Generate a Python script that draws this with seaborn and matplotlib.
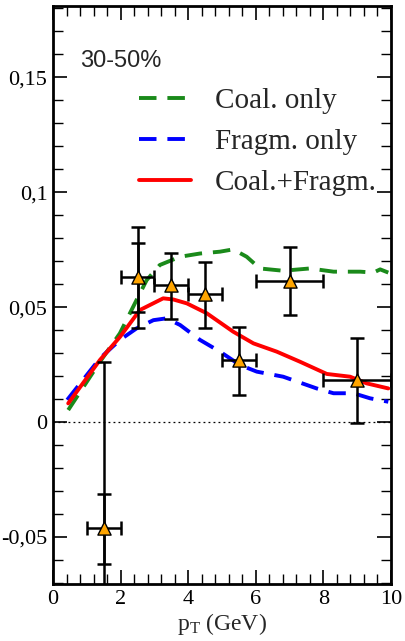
import numpy as np
import pandas as pd
import matplotlib
matplotlib.use("Agg")
import matplotlib.pyplot as plt
from matplotlib.ticker import MultipleLocator, FixedLocator, FixedFormatter
import seaborn as sns

# ---- data ----
coal_pt = [0.45, 1.39, 1.98, 2.47, 2.77, 3.16, 3.76, 4.35, 4.94, 5.33, 5.73, 6.12, 6.81, 7.60, 8.30, 9.09, 9.48, 9.68, 9.92]
coal_v2 = [0.0052, 0.0262, 0.0386, 0.053, 0.0617, 0.0683, 0.0719, 0.0733, 0.0741, 0.0751, 0.0719, 0.0668, 0.0658, 0.0668, 0.0654, 0.0654, 0.065, 0.0664, 0.065]

frag_pt = [0.42, 1.39, 1.98, 2.47, 2.97, 3.36, 3.76, 4.35, 4.94, 5.53, 6.03, 6.81, 7.80, 8.30, 8.89, 9.38, 9.92]
frag_v2 = [0.0096, 0.0277, 0.0357, 0.0407, 0.0443, 0.0451, 0.0422, 0.0357, 0.0306, 0.0248, 0.0219, 0.0197, 0.0146, 0.0125, 0.0125, 0.0103, 0.0088]

both_pt = [0.45, 1.39, 1.98, 2.57, 3.26, 3.56, 3.96, 4.55, 5.33, 5.93, 6.62, 7.31, 8.10, 8.79, 9.28, 9.92]
both_v2 = [0.0081, 0.027, 0.037, 0.0487, 0.0538, 0.0533, 0.0516, 0.0473, 0.0393, 0.0342, 0.0306, 0.0262, 0.0209, 0.0197, 0.0168, 0.0146]

data_pt = [1.5, 2.5, 3.5, 4.5, 5.5, 7.0, 9.0]
data_v2 = [-0.046, 0.063, 0.0594, 0.0555, 0.027, 0.0614, 0.0183]
data_xerr = [0.5, 0.5, 0.5, 0.5, 0.5, 1.0, 1.0]
data_err_hi = [0.072, 0.022, 0.0142, 0.0141, 0.0144, 0.0146, 0.0184]
data_err_lo = [0.080, 0.022, 0.0147, 0.0148, 0.0153, 0.0149, 0.0189]

stat_pt = [1.5, 2.5]
stat_v2 = [-0.046, 0.063]
stat_err_hi = [0.0146, 0.015]
stat_err_lo = [0.0156, 0.015]

model_names = ["Coal. only", "Fragm. only", "Coal.+Fragm."]
centrality_label = "30-50%"
ytick_vals = [-0.05, 0.0, 0.05, 0.1, 0.15]
ytick_labels = ["-0,05", "0", "0,05", "0,1", "0,15"]
xtick_vals = [0, 2, 4, 6, 8, 10]

# ---- build frame ----
df = pd.concat([
    pd.DataFrame({"pt": coal_pt, "v2": coal_v2, "model": model_names[0]}),
    pd.DataFrame({"pt": frag_pt, "v2": frag_v2, "model": model_names[1]}),
    pd.DataFrame({"pt": both_pt, "v2": both_v2, "model": model_names[2]}),
], ignore_index=True)
pts = pd.DataFrame({"pt": data_pt, "v2": data_v2})

sns.set_theme(style="ticks")
plt.rcParams["font.family"] = ["Liberation Serif", "DejaVu Serif"]
plt.rcParams["mathtext.fontset"] = "custom"
plt.rcParams["mathtext.rm"] = "Liberation Serif"
plt.rcParams["mathtext.it"] = "Liberation Serif:italic"

fig = plt.figure(figsize=(4.05, 6.41), dpi=100)
ax = fig.add_axes([53/405, 57/641, 338/405, 578/641])

ax.axhline(0, color="black", lw=0.9, ls=(0, (1.5, 2.5)), zorder=1)

palette = {model_names[0]: "#1a8a1a", model_names[1]: "#0000ff", model_names[2]: "#ff0000"}
dashes = {model_names[0]: (4.5, 2.8), model_names[1]: (4.5, 2.8), model_names[2]: ""}
sns.lineplot(data=df, x="pt", y="v2", hue="model", style="model", palette=palette,
             dashes=dashes, estimator=None, sort=False, lw=2.8, ax=ax, zorder=2)

ax.errorbar(data_pt, data_v2, xerr=data_xerr, yerr=[data_err_lo, data_err_hi],
            fmt="none", ecolor="black", elinewidth=1.8, capsize=5, capthick=1.8, zorder=3)
ax.errorbar(stat_pt, stat_v2, yerr=[stat_err_lo, stat_err_hi],
            fmt="none", ecolor="black", elinewidth=1.8, capsize=5, capthick=1.8, zorder=3)
sns.scatterplot(data=pts, x="pt", y="v2", marker="^", s=90, color="#ffa500",
                edgecolor="black", linewidth=1.0, ax=ax, zorder=4, legend=False)

ax.set_xlim(0, 10)
ax.set_ylim(-0.0705, 0.181)
ax.xaxis.set_major_locator(FixedLocator(xtick_vals))
ax.xaxis.set_minor_locator(MultipleLocator(0.4))
ax.yaxis.set_major_locator(FixedLocator(ytick_vals))
ax.yaxis.set_major_formatter(FixedFormatter(ytick_labels))
ax.yaxis.set_minor_locator(MultipleLocator(0.01))
ax.tick_params(which="both", direction="in", top=True, right=True, colors="black", labelsize=16)
ax.tick_params(which="major", length=10, width=1.2, pad=4)
ax.tick_params(which="minor", length=7, width=1.0)
for s in ax.spines.values():
    s.set_linewidth(2.0)
    s.set_color("black")

ax.set_xlabel(r"p$_{\mathrm{T}}$ (GeV)", fontsize=17, labelpad=2)
ax.set_ylabel("")

ax.text(0.08, 0.905, centrality_label, transform=ax.transAxes, fontsize=17,
        family=["Liberation Sans", "DejaVu Sans"], va="center", ha="left")

leg = ax.legend(loc="upper left", bbox_to_anchor=(0.254, 0.858), frameon=False,
                fontsize=21, handlelength=1.8, handletextpad=0.8, labelspacing=0.49,
                borderaxespad=0, borderpad=0)

fig.savefig("out.png", dpi=100)
